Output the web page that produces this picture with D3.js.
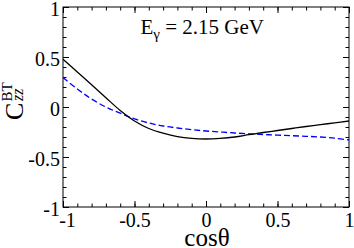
<!DOCTYPE html>
<html>
<head>
<meta charset="utf-8">
<script src="https://cdn.jsdelivr.net/npm/d3@7"></script>
<style>
  html, body { margin: 0; padding: 0; background: #fff; }
  svg { display: block; }
</style>
</head>
<body>
<svg id="chart" width="354" height="248"></svg>
<script>
// ---- data ----
const cosTheta = [-1, -0.9, -0.8, -0.7, -0.6, -0.5, -0.4, -0.3, -0.2, -0.1, 0,
                  0.1, 0.2, 0.3, 0.4, 0.5, 0.6, 0.7, 0.8, 0.9, 1];
const solidSeries = [0.478, 0.35, 0.222, 0.093, -0.035, -0.14, -0.215, -0.262, -0.296, -0.314, -0.32,
                     -0.314, -0.30, -0.277, -0.255, -0.235, -0.215, -0.195, -0.177, -0.158, -0.14];
const dashedSeries = [0.295, 0.18, 0.08, 0.0, -0.062, -0.118, -0.16, -0.19, -0.21, -0.227, -0.24,
                      -0.25, -0.26, -0.268, -0.275, -0.281, -0.287, -0.293, -0.30, -0.312, -0.33];
const xTicks = [-1, -0.5, 0, 0.5, 1];
const yTicks = [-1, -0.5, 0, 0.5, 1];
const xTickLabels = ["-1", "-0.5", "0", "0.5", "1"];
const yTickLabels = ["-1", "-0.5", "0", "0.5", "1"];
const minorTicks = d3.range(-10, 11).map(d => d / 10);

const svg = d3.select("#chart");
const L = 63, R = 349, T = 7, B = 207;
const x = d3.scaleLinear().domain([-1, 1]).range([L, R]);
const y = d3.scaleLinear().domain([-1, 1]).range([B, T]);
const SERIF = "'Liberation Serif'";

// frame
svg.append("rect").attr("x", L).attr("y", T).attr("width", R - L).attr("height", B - T)
  .attr("fill", "none").attr("stroke", "#000").attr("stroke-width", 1);

function styleAxis(g) {
  g.select(".domain").remove();
  g.selectAll(".tick line").attr("stroke", "#000").attr("stroke-width", 1);
  g.selectAll(".tick text").style("font-family", SERIF).attr("fill", "#000");
}
const fmtX = (d) => xTickLabels[xTicks.indexOf(d)];
const fmtY = (d) => yTickLabels[yTicks.indexOf(d)];

// bottom axis: minor then major (inward)
svg.append("g").attr("transform", `translate(0,${B})`)
  .call(d3.axisBottom(x).tickValues(minorTicks).tickSize(-3.5).tickFormat(""))
  .call(styleAxis);
const bx = svg.append("g").attr("transform", `translate(0,${B})`)
  .call(d3.axisBottom(x).tickValues(xTicks).tickSize(-6).tickPadding(6).tickFormat(fmtX))
  .call(styleAxis);
bx.selectAll("text").style("font-size", "20px").attr("dy", "0.72em");
bx.selectAll(".tick text").filter(d => d === -1).attr("dx", 4);

// top axis
svg.append("g").attr("transform", `translate(0,${T})`)
  .call(d3.axisTop(x).tickValues(minorTicks).tickSize(-3.5).tickFormat(""))
  .call(styleAxis);
svg.append("g").attr("transform", `translate(0,${T})`)
  .call(d3.axisTop(x).tickValues(xTicks).tickSize(-6).tickFormat(""))
  .call(styleAxis);

// left axis
svg.append("g").attr("transform", `translate(${L},0)`)
  .call(d3.axisLeft(y).tickValues(minorTicks).tickSize(-3.5).tickFormat(""))
  .call(styleAxis);
const ly = svg.append("g").attr("transform", `translate(${L},0)`)
  .call(d3.axisLeft(y).tickValues(yTicks).tickSize(-6).tickPadding(3).tickFormat(fmtY))
  .call(styleAxis);
ly.selectAll("text").style("font-size", "20px").attr("dy", "0.42em");

// right axis
svg.append("g").attr("transform", `translate(${R},0)`)
  .call(d3.axisRight(y).tickValues(minorTicks).tickSize(-3.5).tickFormat(""))
  .call(styleAxis);
svg.append("g").attr("transform", `translate(${R},0)`)
  .call(d3.axisRight(y).tickValues(yTicks).tickSize(-6).tickFormat(""))
  .call(styleAxis);

// curves
const line = d3.line().x(d => x(d[0])).y(d => y(d[1])).curve(d3.curveCatmullRom.alpha(0.5));
svg.append("path").datum(cosTheta.map((c, i) => [c, dashedSeries[i]]))
  .attr("d", line).attr("fill", "none").attr("stroke", "#0000ff")
  .attr("stroke-width", 1.3).attr("stroke-dasharray", "6,3");
svg.append("path").datum(cosTheta.map((c, i) => [c, solidSeries[i]]))
  .attr("d", line).attr("fill", "none").attr("stroke", "#000")
  .attr("stroke-width", 1.3);

// annotation
const ann = svg.append("text").attr("x", 140.5).attr("y", 34.3)
  .style("font-family", SERIF).style("font-size", "21px").attr("fill", "#000");
ann.append("tspan").text("E");
ann.append("tspan").style("font-size", "15px").attr("dy", 5).text("γ");
ann.append("tspan").attr("dy", -5).text(" = 2.15 GeV");

// x axis title
svg.append("text").attr("x", 207).attr("y", 246).attr("text-anchor", "middle")
  .style("font-family", SERIF).style("font-size", "25px").attr("fill", "#000").text("cosθ");

// y axis title
const yl = svg.append("g").attr("transform", "translate(23.3,120) rotate(-90)");
yl.append("text").attr("x", 0).attr("y", 0).style("font-family", SERIF)
  .style("font-size", "26px").text("C");
yl.append("text").attr("x", 18.5).attr("y", -11.6).style("font-family", SERIF)
  .style("font-size", "15px").text("BT");
yl.append("text").attr("x", 19).attr("y", 0).style("font-family", SERIF)
  .style("font-size", "16px").style("font-style", "italic").text("zz");
</script>
</body>
</html>
